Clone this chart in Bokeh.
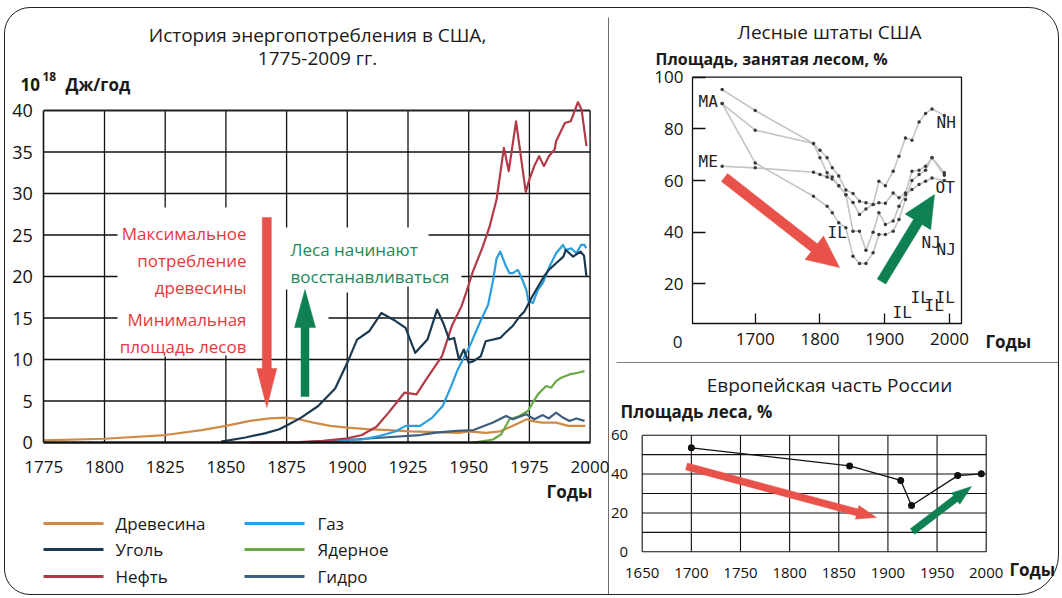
import math
from bokeh.plotting import figure
from bokeh.models import Range1d, LinearAxis, FixedTicker
from bokeh.layouts import row, column
from bokeh.core.properties import value
from bokeh.embed import file_html
from bokeh.resources import INLINE

FONT = "Open Sans"
MONO = "DejaVu Sans Mono"

# ---------------- data: US energy consumption (10^18 J / year) ----------------
energy_x_ticks = [1775, 1800, 1825, 1850, 1875, 1900, 1925, 1950, 1975, 2000]
energy_y_ticks = [0, 5, 10, 15, 20, 25, 30, 35, 40]

wood_years = [1775, 1800, 1825, 1840, 1850, 1860, 1868, 1875, 1880, 1886, 1893, 1900, 1908, 1917, 1926,
              1937, 1946, 1950, 1957, 1963, 1968, 1974, 1976, 1980, 1986, 1991, 1998]
wood = [0.25, 0.45, 0.9, 1.5, 2.0, 2.6, 2.9, 3.0, 2.8, 2.4, 2.0, 1.8, 1.6, 1.5, 1.35,
        1.25, 1.15, 1.35, 1.15, 1.35, 2.0, 2.8, 2.6, 2.4, 2.4, 2.0, 2.0]

coal_years = [1848, 1858, 1866, 1872, 1876, 1881, 1888, 1895, 1900, 1904, 1909, 1914, 1919, 1924, 1928,
              1933, 1937, 1939.5, 1942, 1944, 1946, 1948, 1950, 1952, 1955, 1957, 1963, 1965, 1968,
              1971, 1973, 1976, 1979, 1981, 1983, 1986, 1989, 1990, 1993, 1996, 1997.5, 1998.5]
coal = [0.1, 0.6, 1.1, 1.6, 2.2, 3.0, 4.4, 6.5, 9.6, 12.4, 13.4, 15.6, 14.8, 13.8, 10.8,
        12.4, 16.0, 14.4, 12.4, 12.6, 10.0, 11.2, 9.6, 9.8, 10.4, 12.2, 12.6, 13.2, 14.0,
        15.2, 15.8, 17.5, 19.0, 20.0, 20.8, 21.6, 22.4, 23.2, 22.4, 23.0, 22.5, 20.0]

oil_years = [1860, 1880, 1890, 1900, 1906, 1912, 1917, 1923.5, 1928.5, 1932.5, 1939, 1943, 1947, 1949,
             1951.6, 1955.8, 1958.6, 1961.5, 1964.5, 1966.5, 1969.5, 1973.5, 1975, 1977, 1979, 1981,
             1983, 1985.4, 1986, 1989.6, 1992, 1995, 1996.5, 1998.5]
oil = [0.0, 0.05, 0.2, 0.5, 0.9, 1.9, 3.6, 6.0, 5.8, 7.6, 10.4, 14.0, 16.4, 18.1,
       20.5, 23.6, 26.0, 29.3, 35.5, 32.7, 38.7, 30.2, 31.7, 33.3, 34.5, 33.3,
       34.5, 35.3, 36.3, 38.5, 38.7, 41.0, 40.1, 35.7]

gas_years = [1885, 1900, 1906, 1913, 1920, 1924, 1930, 1935, 1939.3, 1942.8, 1945.5, 1948.3, 1951, 1954.5,
             1958, 1960, 1961.5, 1963, 1965.4, 1966.8, 1968.2, 1970.2, 1971.6, 1973.7, 1974.6, 1976.4,
             1978.5, 1980.5, 1983.3, 1986, 1988.8, 1990, 1992.2, 1994.3, 1996.3, 1997.7, 1998.4]
gas = [0.1, 0.3, 0.36, 0.76, 1.36, 2.0, 2.0, 3.0, 4.4, 6.8, 8.8, 10.4, 12.0, 14.4,
       16.6, 19.5, 22.2, 23.0, 21.2, 20.4, 20.4, 20.8, 20.0, 18.4, 17.0, 16.8,
       18.4, 19.2, 21.2, 22.8, 23.8, 23.2, 23.4, 22.8, 23.8, 23.8, 23.4]

nuclear_years = [1952, 1960, 1963.4, 1966.8, 1970.9, 1974.4, 1976.4, 1978.5, 1981.9, 1984, 1986, 1988.1,
                 1991.5, 1995, 1997.7]
nuclear = [0.0, 0.36, 1.0, 2.8, 3.2, 3.8, 4.8, 5.8, 6.8, 6.6, 7.4, 7.8, 8.2, 8.4, 8.6]

hydro_years = [1885, 1900, 1915, 1930, 1936.6, 1945, 1952, 1960, 1965.4, 1968.2, 1973.7, 1977, 1980.5,
               1983, 1986, 1988.8, 1991.5, 1994.3, 1997.7]
hydro = [0.05, 0.3, 0.6, 0.9, 1.2, 1.4, 1.5, 2.4, 3.2, 2.8, 3.4, 2.8, 3.3,
         2.9, 3.6, 3.0, 2.6, 2.9, 2.6]

legend_labels = ["Древесина", "Уголь", "Нефть", "Газ", "Ядерное", "Гидро"]
series_colors = ["#cf8a45", "#1b3a52", "#b23a48", "#2a9fdf", "#6aaa48", "#3d5f80"]

# ---------------- data: forest states of USA (% forest area) ----------------
forest_x_ticks = [1700, 1800, 1900, 2000]
forest_y_ticks = [20, 40, 60, 80, 100]
nh_years = [1649, 1700, 1790, 1800, 1811, 1819, 1829, 1840, 1851, 1861, 1871, 1882, 1891, 1901, 1913,
            1922, 1932, 1942, 1953, 1963, 1973, 1992]
nh = [95.2, 87.1, 74.3, 71.7, 68.8, 64.9, 61.7, 56.3, 55.0, 52.0, 51.4, 50.7, 59.7, 58.0, 63.6,
      69.4, 76.5, 75.6, 82.6, 85.9, 87.7, 85.2]
ma_years = [1649, 1700, 1790, 1800, 1811, 1819, 1829, 1840, 1851, 1861, 1871, 1882, 1891, 1901, 1913,
            1922, 1932, 1942, 1953, 1963, 1973, 1992]
ma = [89.8, 79.5, 74.3, 68.8, 63.0, 61.4, 58.0, 54.5, 51.5, 46.8, 49.0, 50.7, 51.4, 51.2, 55.2,
      53.3, 55.2, 63.6, 64.0, 65.5, 68.8, 63.0]
me_years = [1649, 1700, 1790, 1800, 1811, 1819, 1829, 1840, 1851, 1861, 1871, 1882, 1891, 1901, 1913,
            1922, 1932, 1942, 1953, 1963, 1973, 1992]
me = [65.5, 64.9, 63.2, 62.3, 61.4, 60.6, 58.0, 54.5, 40.4, 40.4, 33.0, 40.0, 47.5, 43.0, 44.3,
      50.0, 54.6, 56.5, 58.5, 59.7, 61.0, 60.0]
nj_years = [1649, 1700, 1790, 1811, 1819, 1829, 1840, 1851, 1861, 1871, 1882, 1891, 1901, 1913,
            1922, 1932, 1942, 1953, 1963, 1973, 1992]
nj = [89.8, 66.8, 53.9, 50.0, 47.5, 43.6, 41.7, 30.7, 27.9, 27.9, 32.0, 39.1, 39.1, 40.4,
      44.9, 52.6, 60.0, 62.3, 64.0, 68.8, 62.0]
state_labels = ["MA", "ME", "NH", "OT", "IL", "NJ", "NJ", "IL", "IL", "IL", "IL"]

# ---------------- data: European Russia (% forest area) ----------------
russia_x_ticks = [1650, 1700, 1750, 1800, 1850, 1900, 1950, 2000]
russia_y_ticks = [0, 20, 40, 60]
russia_grid_y = [0, 10, 20, 30, 40, 50, 60]
russia_years = [1700, 1861, 1913, 1924, 1971, 1995]
russia_forest = [53.5, 44.2, 36.7, 23.8, 39.2, 40.1]

# ---------------- helpers ----------------
def make_fig(W, H, ox, oy, x0, xpx, kx, y0, ypx, ky):
    xs = x0 + (ox - xpx) / kx
    ye = y0 + (ypx - oy) / ky
    p = figure(width=W, height=H, x_range=Range1d(xs, xs + W / kx), y_range=Range1d(ye - H / ky, ye),
               x_axis_type=None, y_axis_type=None, output_backend="svg", toolbar_location=None,
               min_border=0, outline_line_color=None, background_fill_color=None, border_fill_color=None)
    X = lambda px: x0 + (px - xpx) / kx
    Y = lambda py: y0 + (ypx - py) / ky
    return p, X, Y


def put_text(p, xs, ys, texts, size, color="#1a1a1a", align="left", bold=False, font=FONT):
    p.text(x=xs, y=ys, text=texts, text_font=value(font), text_font_size=f"{size}px",
           text_color=color, text_align=align, text_baseline="middle",
           text_font_style="bold" if bold else "normal")


def arrow(p, kx, ky, x1, y1, x2, y2, shaft, hlen, hwid, color):
    sx, sy, ex, ey = x1 * kx, y1 * ky, x2 * kx, y2 * ky
    L = math.hypot(ex - sx, ey - sy)
    dx, dy = (ex - sx) / L, (ey - sy) / L
    nx, ny = -dy, dx
    bx, by = ex - dx * hlen, ey - dy * hlen
    pts = [(sx + nx * shaft / 2, sy + ny * shaft / 2), (bx + nx * shaft / 2, by + ny * shaft / 2),
           (bx + nx * hwid / 2, by + ny * hwid / 2), (ex, ey),
           (bx - nx * hwid / 2, by - ny * hwid / 2), (bx - nx * shaft / 2, by - ny * shaft / 2),
           (sx - nx * shaft / 2, sy - ny * shaft / 2)]
    p.patch([a / kx for a, b in pts], [b / ky for a, b in pts], fill_color=color, line_color=color,
            line_width=0.5)


def style_axis(ax, size):
    ax.major_label_text_font = FONT
    ax.major_label_text_font_size = f"{size}px"
    ax.major_label_text_color = "#111111"
    ax.minor_tick_line_color = None


RED = "#e8524a"
GREEN = "#0e8052"
RED_TXT = "#e8383d"
GREEN_TXT = "#1a8a5a"

# page placement of the three panels
OX, OY = 6, 9
W_LEFT, H_ALL = 604, 586
W_RIGHT, H_TOP = 449, 355
RX0 = OX + W_LEFT

# ================= LEFT: energy history =================
KX, KY = 2.428, 8.3
p1, LX, LY = make_fig(W_LEFT, H_ALL, OX, OY, 1775, 44.3, KX, 0, 443, KY)

# grid (with gaps behind annotations)
h_gaps = {15: (LX(118), LX(329)), 20: (LX(118), LX(462)), 25: (LX(118), LX(429))}
v_gaps = {1825: (LY(357), LY(208)), 1850: (LY(356), LY(208)), 1875: (LY(290), LY(228)),
          1900: (LY(293), LY(228)), 1925: (LY(287), LY(228))}
gx0, gy0, gx1, gy1 = [], [], [], []
for v in energy_y_ticks[1:-1]:
    if v in h_gaps:
        a, b = h_gaps[v]
        gx0 += [energy_x_ticks[0], b]; gx1 += [a, energy_x_ticks[-1]]; gy0 += [v, v]; gy1 += [v, v]
    else:
        gx0.append(energy_x_ticks[0]); gx1.append(energy_x_ticks[-1]); gy0.append(v); gy1.append(v)
for yr in energy_x_ticks[1:-1]:
    if yr in v_gaps:
        a, b = v_gaps[yr]
        gx0 += [yr, yr]; gx1 += [yr, yr]; gy0 += [0, b]; gy1 += [a, energy_y_ticks[-1]]
    else:
        gx0.append(yr); gx1.append(yr); gy0.append(0); gy1.append(energy_y_ticks[-1])
p1.segment(x0=gx0, y0=gy0, x1=gx1, y1=gy1, line_color="#111111", line_width=1.3)
p1.segment(x0=[energy_x_ticks[0]], y0=[energy_y_ticks[-1]], x1=[energy_x_ticks[-1]],
           y1=[energy_y_ticks[-1]], line_color="#222222", line_width=2.2)
p1.segment(x0=[energy_x_ticks[-1]], y0=[0], x1=[energy_x_ticks[-1]], y1=[energy_y_ticks[-1]],
           line_color="#222222", line_width=1.5)

xa = LinearAxis(fixed_location=0, bounds=(1775, 2000), ticker=FixedTicker(ticks=energy_x_ticks),
                axis_line_width=2.6, axis_line_color="#111111", major_tick_line_color=None,
                major_label_standoff=12)
style_axis(xa, 17)
p1.add_layout(xa, "below")
ya = LinearAxis(fixed_location=1775, bounds=(0, 40), ticker=FixedTicker(ticks=energy_y_ticks),
                axis_line_width=1.6, axis_line_color="#111111", major_tick_line_color=None,
                major_label_standoff=5)
style_axis(ya, 18)
p1.add_layout(ya, "left")

series = [(wood_years, wood), (coal_years, coal), (oil_years, oil), (gas_years, gas),
          (nuclear_years, nuclear), (hydro_years, hydro)]
draw_order = [0, 4, 5, 3, 2, 1]
for i in draw_order:
    xs, ys = series[i]
    p1.line(xs, ys, line_color=series_colors[i], line_width=2.2, line_join="round")

# titles and labels
put_text(p1, [LX(318), LX(318)], [LY(35), LY(58)], ["История энергопотребления в США,", "1775-2009 гг."],
         19, align="center")
put_text(p1, [LX(21)], [LY(85)], ["10"], 17, bold=True)
put_text(p1, [LX(43)], [LY(77)], ["18"], 12, bold=True)
put_text(p1, [LX(66)], [LY(85)], ["Дж/год"], 17, bold=True)
put_text(p1, [LX(570)], [LY(492)], ["Годы"], 17, bold=True, align="center")
put_text(p1, [LX(247)] * 5, [LY(234), LY(261), LY(288), LY(320), LY(347)],
         ["Максимальное", "потребление", "древесины", "Минимальная", "площадь лесов"], 17,
         color=RED_TXT, align="right")
put_text(p1, [LX(291)] * 2, [LY(250), LY(277)], ["Леса начинают", "восстанавливаться"], 17,
         color=GREEN_TXT)
arrow(p1, KX, KY, LX(267.3), LY(218), LX(267.3), LY(408), 9, 39, 20, RED)
arrow(p1, KX, KY, LX(305.5), LY(397), LX(305.5), LY(290), 8, 38, 21, GREEN)

# legend
row_y = [524, 550, 577]
for i, lab in enumerate(legend_labels):
    c, r = divmod(i, 3)
    x_line = [44, 245][c]
    x_txt = [116, 318][c]
    p1.segment(x0=[LX(x_line)], y0=[LY(row_y[r])], x1=[LX(x_line + 60)], y1=[LY(row_y[r])],
               line_color=series_colors[i], line_width=3)
    put_text(p1, [LX(x_txt)], [LY(row_y[r])], [lab], 17)

# vertical divider between panels
p1.segment(x0=[LX(609.3)], y0=[LY(18)], x1=[LX(609.3)], y1=[LY(600)], line_color="#555555", line_width=1.3)

# ================= RIGHT TOP: forest states =================
K2X, K2Y = 0.6477, 2.5833
p2, RX, RY = make_fig(W_RIGHT, H_TOP, RX0, OY, 1700, 755.7, K2X, 0, 336.0, K2Y)
p2.quad(left=[RX(693)], right=[RX(962)], bottom=[RY(324)], top=[forest_y_ticks[-1]],
        fill_color=None, line_color="#111111", line_width=1.3)
ya2 = LinearAxis(fixed_location=RX(693), ticker=FixedTicker(ticks=forest_y_ticks), axis_line_color=None,
                 major_tick_in=13, major_tick_out=0, major_tick_line_width=1.3,
                 major_tick_line_color="#111111", major_label_standoff=9)
style_axis(ya2, 17)
p2.add_layout(ya2, "left")
xa2 = LinearAxis(fixed_location=RY(324), ticker=FixedTicker(ticks=forest_x_ticks), axis_line_color=None,
                 major_tick_in=10, major_tick_out=0, major_tick_line_width=1.3,
                 major_tick_line_color="#111111", major_label_standoff=9)
style_axis(xa2, 17)
p2.add_layout(xa2, "below")

for xs, ys in [(nj_years, nj), (me_years, me), (ma_years, ma), (nh_years, nh)]:
    p2.line(xs, ys, line_color="#c4c4c4", line_width=1.6)
    p2.scatter(xs, ys, size=3.5, fill_color="#3a3a3a", line_color=None)

put_text(p2, [RX(830)], [RY(32)], ["Лесные штаты США"], 19, align="center")
put_text(p2, [RX(656)], [RY(59)], ["Площадь, занятая  лесом, %"], 16, bold=True)
put_text(p2, [RX(678)], [RY(342)], ["0"], 17, align="center")
put_text(p2, [RX(986)], [RY(342)], ["Годы"], 17, bold=True)
lab_px = [699, 699, 937, 936, 828, 922, 937, 893, 911, 925, 936]
lab_py = [102, 162, 123, 188, 233, 243, 250, 313, 298, 306, 298]
put_text(p2, [RX(v) for v in lab_px], [RY(v) for v in lab_py], state_labels, 16, color="#222222", font=MONO)
arrow(p2, K2X, K2Y, RX(725), RY(178), RX(840), RY(268), 10, 32, 30, RED)
arrow(p2, K2X, K2Y, RX(882), RY(282), RX(935), RY(195), 10, 32, 30, GREEN)
# horizontal divider
p2.segment(x0=[RX(617)], y0=[RY(363.5)], x1=[RX(1062)], y1=[RY(363.5)], line_color="#555555", line_width=1.5)

# ================= RIGHT BOTTOM: European Russia =================
K3X, K3Y = 0.9829, 1.9433
p3, BX, BY = make_fig(W_RIGHT, H_ALL - H_TOP, RX0, OY + H_TOP, 1650, 642.7, K3X, 0, 552.3, K3Y)
sx0, sy0, sx1, sy1 = [], [], [], []
for v in russia_grid_y:
    sx0.append(russia_x_ticks[0]); sx1.append(russia_x_ticks[-1]); sy0.append(v); sy1.append(v)
for yr in russia_x_ticks:
    sx0.append(yr); sx1.append(yr); sy0.append(russia_grid_y[0]); sy1.append(russia_grid_y[-1])
p3.segment(x0=sx0, y0=sy0, x1=sx1, y1=sy1, line_color="#111111", line_width=1.1)
xa3 = LinearAxis(fixed_location=0, ticker=FixedTicker(ticks=russia_x_ticks), axis_line_color=None,
                 major_tick_line_color=None, major_label_standoff=10)
style_axis(xa3, 15)
p3.add_layout(xa3, "below")
ya3 = LinearAxis(fixed_location=1650, ticker=FixedTicker(ticks=russia_y_ticks), axis_line_color=None,
                 major_tick_line_color=None, major_label_standoff=8)
style_axis(ya3, 15)
p3.add_layout(ya3, "left")
p3.line(russia_years, russia_forest, line_color="#111111", line_width=1.3)
p3.scatter(russia_years, russia_forest, size=7, fill_color="#111111", line_color=None)
put_text(p3, [BX(830)], [BY(385)], ["Европейская часть России"], 19, align="center")
put_text(p3, [BX(621)], [BY(412)], ["Площадь леса, %"], 17, bold=True)
put_text(p3, [BX(1010)], [BY(570)], ["Годы"], 17, bold=True)
arrow(p3, K3X, K3Y, BX(687), BY(467), BX(877), BY(518), 7, 20, 14, RED)
arrow(p3, K3X, K3Y, BX(913), BY(532), BX(972), BY(487), 7, 20, 14, GREEN)

layout = row(p1, column(p2, p3),
             styles={"border": "1px solid #222222", "border-radius": "26px 30px 40px 26px",
                     "margin-left": "4px", "margin-top": "7px"})

open("out.html", "w").write(file_html(layout, INLINE))
